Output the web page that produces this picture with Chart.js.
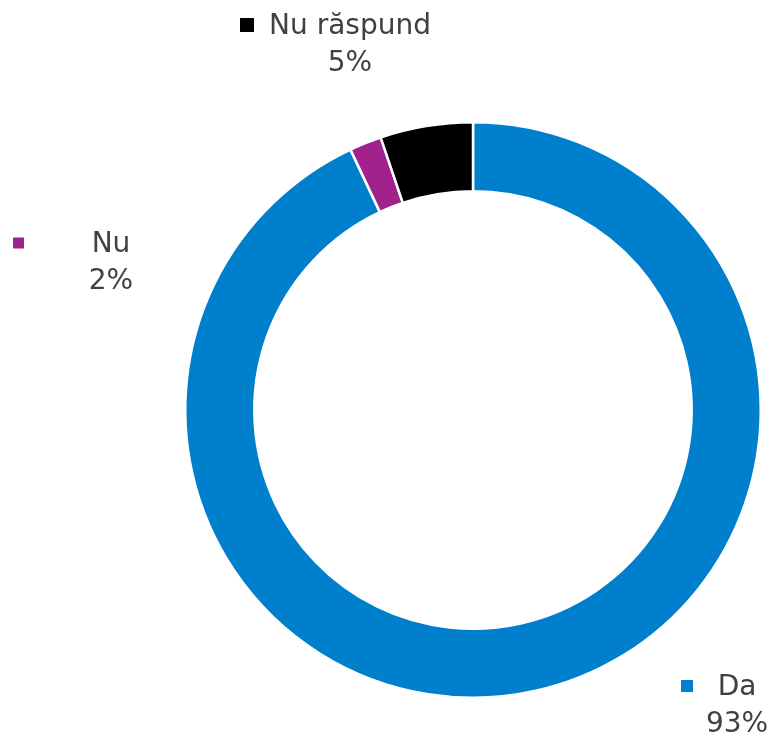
<!DOCTYPE html>
<html>
<head>
<meta charset="utf-8">
<script src="https://cdn.jsdelivr.net/npm/chart.js@4"></script>
<style>
  html, body { margin: 0; padding: 0; background: #fff; }
  #wrap { width: 768px; height: 737px; position: relative; }
</style>
</head>
<body>
<div id="wrap"><canvas id="chart"></canvas></div>
<script>
// data
const categories = ["Da", "Nu", "Nu răspund"];
const shares = [93.0, 1.8, 5.2];
const shareLabels = ["93%", "2%", "5%"];
const colors = ["#0080CC", "#A1228C", "#000000"];

// where the data labels sit (text centre x, first line y, marker x)
const labelSpots = [
    { x: 737, y: 688, mx: 681, size: 12 },
    { x: 111, y: 245, mx: 13, size: 11 },
    { x: 350, y: 27, mx: 240, size: 14 }
];

const labelPlugin = {
    id: 'labels',
    afterDraw(chart) {
        const ctx = chart.ctx;
        ctx.save();
        ctx.font = '28px "DejaVu Sans", sans-serif';
        ctx.textAlign = 'center';
        ctx.textBaseline = 'middle';
        for (var i = 0; i < categories.length; i++) {
            var s = labelSpots[i];
            ctx.fillStyle = colors[i];
            ctx.fillRect(s.mx, s.y - s.size / 2 - 2, s.size, s.size);
            ctx.fillStyle = '#404040';
            ctx.fillText(categories[i], s.x, s.y);
            ctx.fillText(shareLabels[i], s.x, s.y + 37);
        }
        ctx.restore();
    }
};

new Chart(document.getElementById('chart'), {
    type: 'doughnut',
    data: {
        labels: categories,
        datasets: [{
            data: shares,
            backgroundColor: colors,
            borderColor: '#ffffff',
            borderWidth: 2.5
        }]
    },
    options: {
        responsive: true,
        maintainAspectRatio: false,
        animation: false,
        cutout: '76%',
        layout: { padding: { left: 184, right: 6, top: 121, bottom: 38 } },
        plugins: {
            legend: { display: false },
            tooltip: { enabled: false }
        }
    },
    plugins: [labelPlugin]
});
</script>
</body>
</html>
